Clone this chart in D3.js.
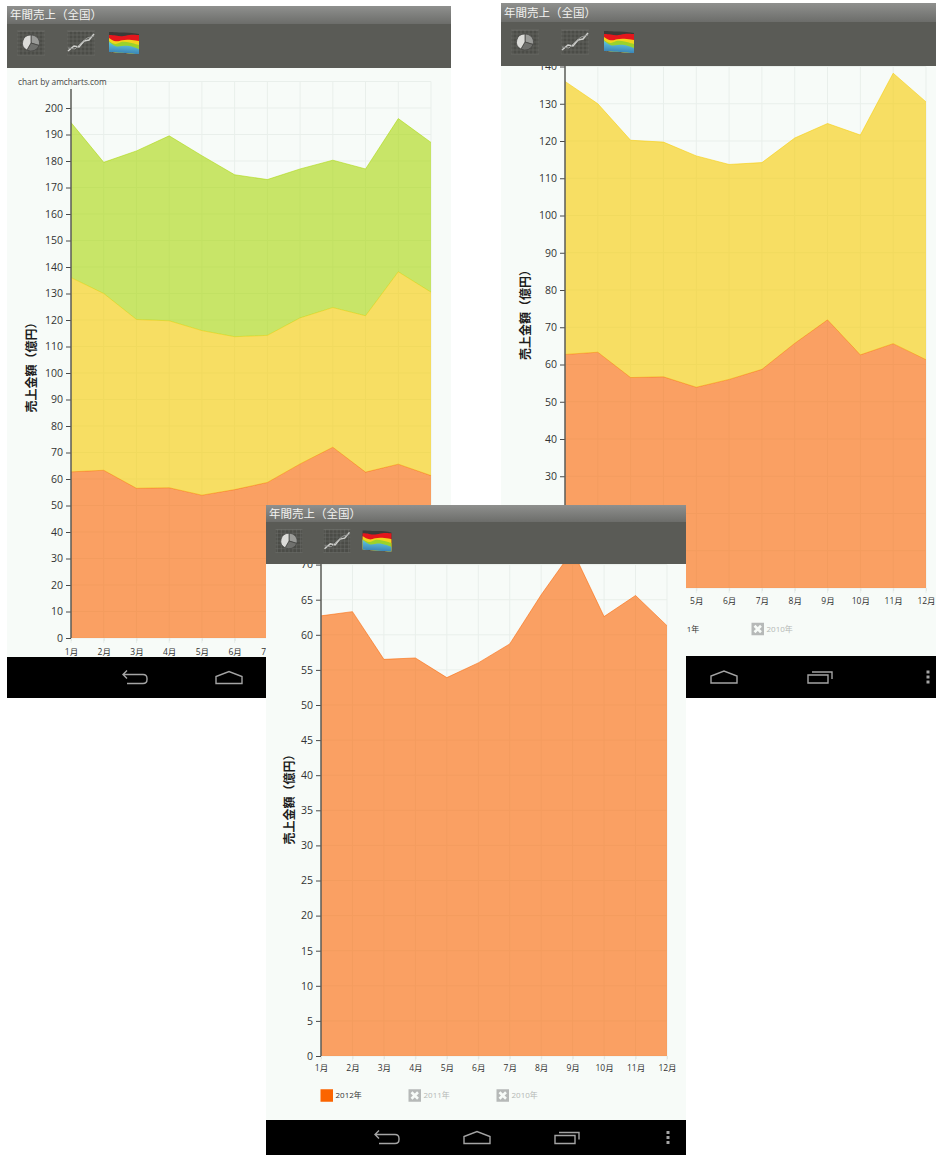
<!DOCTYPE html>
<html lang="ja">
<head>
<meta charset="utf-8">
<title>年間売上（全国）</title>
<script src="https://cdn.jsdelivr.net/npm/d3@7"></script>
<style>
  html, body { margin: 0; padding: 0; background: #fff; }
  svg { display: block; font-family: "Open Sans", "Noto Sans CJK JP", sans-serif; }
</style>
</head>
<body>
<svg id="app" width="936" height="1155"></svg>
<script>
// Monthly national sales, in units of 100 million yen
const months = ["1月","2月","3月","4月","5月","6月","7月","8月","9月","10月","11月","12月"];
const years = ["2012年","2011年","2010年"];
const sales2012 = [62.7,63.3,56.5,56.7,53.9,56.0,58.7,65.7,72.0,62.6,65.6,61.3];
const sales2011 = [73.3,66.7,63.7,63.0,62.1,57.7,55.5,55.1,52.7,59.0,72.6,69.2];
const sales2010 = [58.5,49.5,63.6,69.8,66.0,61.1,58.8,56.2,55.6,55.4,57.8,56.5];
const seriesColors = ["#fb6400","#f7cc00","#a9d708"];
const titleText = "年間売上（全国）";
const axisTitle = "売上金額（億円）";
const credit = "chart by amcharts.com";

// One device screenshot per view: each shows fewer stacked years at a larger scale
const views = [
  { id:"a", frame:[7,451], top:6, barEnd:24, toolEnd:68, chartEnd:657, navEnd:698,
    plotX:[71,431], zeroY:638, unit:2.65, yMax:210, axisTop:89, step:10, tickMax:200,
    shown:3, titleX:31.5, titleY:364.5, legendY:null, legendGap:[0,0], monthPad:8,
    icons:[31,81,124], iconY:43, iconScale:1,
    nav:{back:135, home:229, recents:326, dots:null} },
  { id:"b", frame:[501,936], top:3, barEnd:22, toolEnd:66, chartEnd:656, navEnd:698,
    plotX:[565,926], zeroY:588, unit:3.725, yMax:140, axisTop:66, step:10, tickMax:140,
    shown:2, titleX:526, titleY:312, legendY:629, legendGap:[0,93.5,187], monthPad:7,
    icons:[525,575,619], iconY:42, iconScale:1,
    nav:{back:630, home:724, recents:820, dots:928} },
  { id:"c", frame:[266,686], top:505, barEnd:522, toolEnd:564, chartEnd:1120, navEnd:1155,
    plotX:[321,667], zeroY:1056, unit:7.02, yMax:70, axisTop:564, step:5, tickMax:70,
    shown:1, titleX:289.5, titleY:796.5, legendY:1095.5, legendGap:[0,88,176], monthPad:6,
    icons:[289,337,377], iconY:541, iconScale:0.96,
    nav:{back:387, home:477, recents:567, dots:668} }
];

const svg = d3.select("#app");
const defs = svg.append("defs");
const barGrad = defs.append("linearGradient").attr("id","titleBar").attr("x1",0).attr("x2",0).attr("y1",0).attr("y2",1);
barGrad.append("stop").attr("offset",0).attr("stop-color","#8f908e");
barGrad.append("stop").attr("offset",1).attr("stop-color","#6c6d6a");
const areaGrad = defs.append("linearGradient").attr("id","iconBlue").attr("x1",0).attr("x2",0).attr("y1",0).attr("y2",1);
areaGrad.append("stop").attr("offset",0).attr("stop-color","#62c6dc");
areaGrad.append("stop").attr("offset",1).attr("stop-color","#3b86b8");

const rawSeries = [sales2012, sales2011, sales2010];
const rows = months.map((m,i) => ({ month:m, s0:rawSeries[0][i], s1:rawSeries[1][i], s2:rawSeries[2][i] }));

function drawIconGrid(g) {
  g.append("rect").attr("x",-13).attr("y",-11).attr("width",26).attr("height",23)
    .attr("fill","#3f403d").attr("opacity",0.55);
  const frame = g.append("g").attr("stroke","#8a8b87").attr("stroke-width",0.5).attr("opacity",0.6);
  d3.range(-12,13,4).forEach(v => {
    frame.append("line").attr("x1",v).attr("x2",v).attr("y1",-12).attr("y2",12);
    frame.append("line").attr("x1",-14).attr("x2",14).attr("y1",v).attr("y2",v);
  });
}
function drawPieIcon(g) {
  drawIconGrid(g);
  const arc = d3.arc().innerRadius(0).outerRadius(8.5);
  const pie = d3.pie().sort(null)([30,28,42]);
  g.append("g").attr("transform","scale(1,0.95)").selectAll("path").data(pie).join("path")
    .attr("d",arc).attr("stroke","#454643").attr("stroke-width",0.8)
    .attr("fill",(d,i)=>["#9a9b98","#6f706d","#dcdcd9"][i]);
}
function drawLineIcon(g) {
  drawIconGrid(g);
  const line = d3.line();
  g.append("path").attr("d",line([[-13,8],[-7,3],[-2,4],[3,-2],[8,-3],[13,-9]]))
    .attr("fill","none").attr("stroke","#cfd0cd").attr("stroke-width",1.5);
  g.append("path").attr("d",line([[-13,5],[-6,6],[0,0],[6,-5],[13,-7]]))
    .attr("fill","none").attr("stroke","#989996").attr("stroke-width",1);
}
function drawAreaIcon(g) {
  // Small stacked-area glyph, tilted slightly
  const tilted = g.append("g").attr("transform","skewY(4)");
  const band = (pts, fill) => tilted.append("path")
    .attr("d", d3.area().curve(d3.curveBasis).x(p=>p[0]).y0(10).y1(p=>p[1])(pts)).attr("fill",fill);
  band([[-15,-10],[-5,-10],[5,-11],[15,-10]],"#3a3b38");
  band([[-15,-7],[-8,-7],[-2,-6],[5,-9],[15,-9]],"#e4161c");
  band([[-15,-4],[-8,0],[-2,-3],[5,-4],[15,-3]],"#f2d41c");
  band([[-15,-1],[-8,3],[-2,-2],[5,-1],[15,1]],"#9bd22a");
  band([[-15,0],[-8,5],[-2,3],[5,2],[15,5]],"url(#iconBlue)");
}

views.forEach(v => {
  const [fx0, fx1] = v.frame;
  const width = fx1 - fx0;
  const root = svg.append("g").attr("class","view-"+v.id);
  const clipId = "clip-"+v.id;
  defs.append("clipPath").attr("id",clipId).append("rect")
    .attr("x",fx0).attr("y",v.toolEnd).attr("width",width).attr("height",v.chartEnd-v.toolEnd);

  // Chart surface
  root.append("rect").attr("x",fx0).attr("y",v.toolEnd).attr("width",width)
    .attr("height",v.chartEnd-v.toolEnd).attr("fill","#f7fbf8");
  const chart = root.append("g").attr("clip-path",`url(#${clipId})`);

  const x = d3.scalePoint().domain(months).range(v.plotX);
  const y = d3.scaleLinear().domain([0,v.yMax]).range([v.zeroY, v.zeroY - v.yMax*v.unit]);
  const ticks = d3.range(0, v.tickMax+1, v.step);

  // Grid
  const grid = chart.append("g").attr("stroke","#e9efeb").attr("stroke-width",1);
  grid.selectAll("line.v").data(months).join("line").attr("class","v")
    .attr("x1",d=>x(d)).attr("x2",d=>x(d)).attr("y1",y(v.yMax)).attr("y2",y(0)+5);
  grid.selectAll("line.h").data(d3.range(0,v.yMax+1,v.step)).join("line").attr("class","h")
    .attr("x1",v.plotX[0]).attr("x2",v.plotX[1]).attr("y1",d=>y(d)).attr("y2",d=>y(d));

  // Stacked areas, 2012 at the bottom
  const keys = ["s0","s1","s2"].slice(0,v.shown);
  const layers = d3.stack().keys(keys)(rows);
  const area = d3.area().x(d=>x(d.data.month)).y0(d=>y(d[0])).y1(d=>y(d[1]));
  const topLine = d3.line().x(d=>x(d.data.month)).y(d=>y(d[1]));
  layers.forEach((layer,i) => {
    chart.append("path").attr("d",area(layer)).attr("fill",seriesColors[i]).attr("fill-opacity",0.6);
    chart.append("path").attr("d",topLine(layer)).attr("fill","none")
      .attr("stroke",seriesColors[i]).attr("stroke-opacity",0.55).attr("stroke-width",1);
  });

  // Value axis
  const yAxis = d3.axisLeft(y).tickValues(ticks).tickSize(5).tickPadding(3).tickFormat(d3.format("d"));
  const yG = chart.append("g").attr("transform",`translate(${v.plotX[0]},0)`).call(yAxis);
  yG.select(".domain").remove();
  yG.selectAll("line").attr("stroke","#4a4a4a");
  yG.selectAll("text").attr("fill","#333").attr("font-size",10.5).attr("font-family",'"Open Sans", sans-serif');
  chart.append("line").attr("x1",v.plotX[0]).attr("x2",v.plotX[0])
    .attr("y1",v.axisTop).attr("y2",y(0)).attr("stroke","#5c5c58").attr("stroke-width",1.5);

  // Month axis
  const xAxis = d3.axisBottom(x).tickSize(3).tickPadding(v.monthPad);
  const xG = chart.append("g").attr("transform",`translate(0,${y(0)})`).call(xAxis);
  xG.select(".domain").remove();
  xG.selectAll("line").attr("stroke","#e1e6e2");
  xG.selectAll("text").attr("fill","#333").attr("font-size",8.5)
    .attr("font-family",'"Open Sans", "Noto Sans CJK JP", sans-serif');

  // Rotated value-axis title
  chart.append("text").attr("transform",`translate(${v.titleX},${v.titleY}) rotate(-90)`)
    .attr("dy","0.35em").attr("text-anchor","middle")
    .attr("font-family",'"Noto Sans CJK JP", sans-serif')
    .attr("font-size",12).attr("font-weight",700).attr("fill","#1c1c1c").text(axisTitle);

  if (v.id === "a") {
    chart.append("text").attr("x",18).attr("y",85).attr("font-size",8.3).attr("fill","#444").text(credit);
  }

  // Legend: hidden years get a grey crossed swatch
  if (v.legendY !== null) {
    const size = 12.5;
    const entries = chart.selectAll("g.legend").data(years).join("g").attr("class","legend")
      .attr("transform",(d,i)=>`translate(${v.plotX[0]-0.5+v.legendGap[i]},${v.legendY})`);
    entries.append("rect").attr("y",-size/2).attr("width",size).attr("height",size)
      .attr("fill",(d,i)=> i < v.shown ? seriesColors[i] : "#b6b9b8");
    entries.filter((d,i)=> i >= v.shown).append("path")
      .attr("d",`M3,${-size/2+3}L${size-3},${size/2-3}M${size-3},${-size/2+3}L3,${size/2-3}`)
      .attr("stroke","#f7fbf8").attr("stroke-width",2.6).attr("fill","none");
    entries.append("text").attr("x",size+2.5).attr("dy","0.35em")
      .attr("font-family",'"Open Sans", "Noto Sans CJK JP", sans-serif').attr("font-size",8)
      .attr("fill",(d,i)=> i < v.shown ? "#333" : "#b4b8b6").text(d=>d);
  }

  // Title bar and toolbar
  root.append("rect").attr("x",fx0).attr("y",v.top).attr("width",width)
    .attr("height",v.barEnd-v.top).attr("fill","url(#titleBar)");
  root.append("rect").attr("x",fx0).attr("y",v.barEnd).attr("width",width)
    .attr("height",v.toolEnd-v.barEnd).attr("fill","#5a5b56");
  root.append("text").attr("x",fx0+3).attr("y",(v.top+v.barEnd)/2).attr("dy","0.36em")
    .attr("font-family",'"Noto Sans CJK JP", sans-serif').attr("font-size",11.5)
    .attr("fill","#f2f2f0").text(titleText);

  [drawPieIcon, drawLineIcon, drawAreaIcon].forEach((draw,i) => {
    draw(root.append("g").attr("transform",`translate(${v.icons[i]},${v.iconY}) scale(${v.iconScale})`));
  });

  // System navigation bar
  root.append("rect").attr("x",fx0).attr("y",v.chartEnd).attr("width",width)
    .attr("height",v.navEnd-v.chartEnd).attr("fill","#000");
  const navY = (v.chartEnd+v.navEnd)/2;
  const nav = root.append("g").attr("fill","none").attr("stroke","#a4a4a4").attr("stroke-width",1.4);
  nav.append("path").attr("transform",`translate(${v.nav.back},${navY})`)
    .attr("d","M-12,-3H8Q12,-3 12,1V2Q12,6 8,6H-8M-8,-7L-12,-3L-8,1");
  nav.append("path").attr("transform",`translate(${v.nav.home},${navY})`)
    .attr("d","M-13,6V-1L0,-6L13,-1V6Z");
  nav.append("path").attr("transform",`translate(${v.nav.recents},${navY})`)
    .attr("d","M-12,-2H8V6H-12ZM-8,-5H12V2");
  if (v.nav.dots !== null) {
    root.append("g").attr("fill","#a4a4a4").selectAll("rect").data([-5,0,5]).join("rect")
      .attr("x",v.nav.dots-1.5).attr("y",d=>navY+d-1.5).attr("width",3).attr("height",3);
  }
});
</script>
</body>
</html>
